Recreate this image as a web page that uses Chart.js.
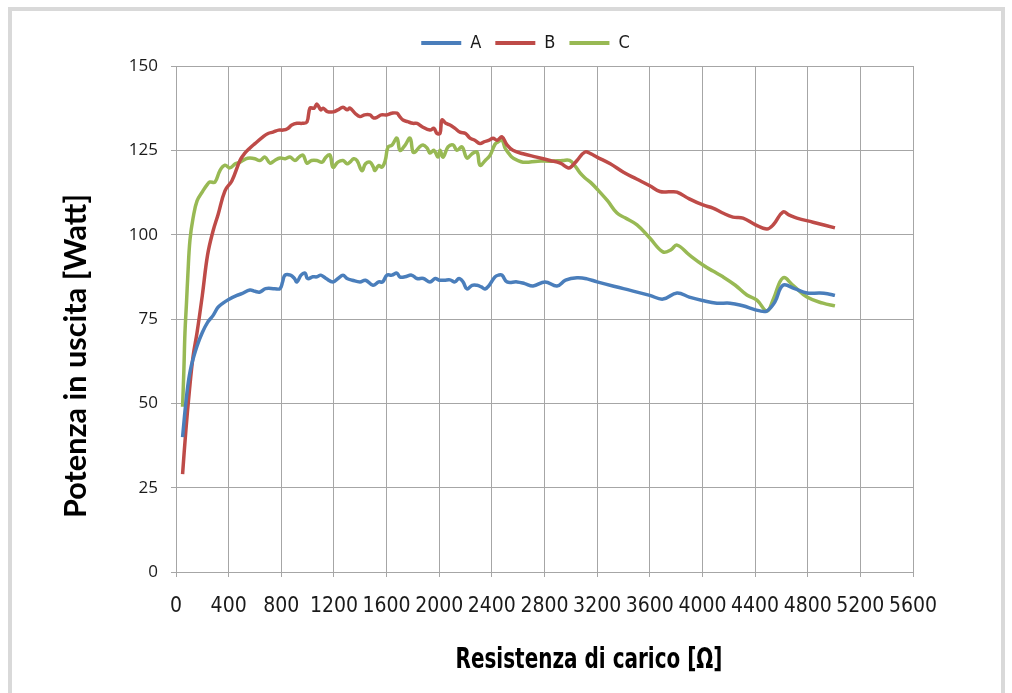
<!DOCTYPE html>
<html><head><meta charset="utf-8">
<script src="https://cdn.jsdelivr.net/npm/chart.js@4/dist/chart.umd.min.js"></script>
<style>
html,body{margin:0;padding:0;background:#fff;overflow:hidden;}
#wrap{position:relative;width:1012px;height:693px;}
#frame{position:absolute;left:8px;top:7px;width:997px;height:700px;border:4px solid #d9d9d9;box-sizing:border-box;pointer-events:none;}
canvas{position:absolute;left:0;top:0;}
</style></head><body>
<div id="wrap"><canvas id="c" width="1012" height="693"></canvas><div id="frame"></div></div>
<script>
// ---- data ----
const seriesNames = ['A', 'B', 'C'];
const xTitle = 'Resistenza di carico [Ω]';
const yTitle = 'Potenza in uscita [Watt]';

const aX = [50,80,110,160,200,240,281,320,357,400,463,500,562,600,638,680,750,790,810,828,870,900,919,950,980,1000,1040,1071,1100,1140,1193,1231,1269,1300,1340,1398,1440,1497,1540,1570,1603,1640,1679,1700,1740,1790,1831,1880,1930,1970,2000,2040,2082,2120,2150,2181,2211,2250,2287,2320,2348,2380,2424,2450,2477,2515,2591,2650,2713,2804,2895,2960,3047,3123,3200,3400,3600,3700,3807,3900,4000,4110,4209,4300,4437,4490,4550,4612,4700,4794,4893,4950,5007];
const aY = [40,52,60,67,71,74,76,78.5,79.7,80.8,82,82.5,83.6,83.2,83,84,84,84,86,88,88,87,86,88,88.6,87,87.5,87.5,88,87,86,87,88,87,86.5,86,86.5,85,86,86,88,88,88.6,87.5,87.5,88,87,87,86,87,86.5,86.5,86.6,86,87,86,83.9,85,85,84.5,83.9,85,87.5,88,88,86,86,85.5,84.8,86,84.8,86.5,87.2,86.9,86,84,82,80.9,82.7,81.5,80.5,79.7,79.7,79,77.4,77.4,80,85,84,82.7,82.7,82.5,82];

const bX = [50,75,100,130,160,200,240,281,320,372,425,486,520,562,600,661,700,737,780,813,850,880,919,960,995,1018,1050,1071,1100,1117,1150,1193,1230,1269,1300,1322,1360,1398,1430,1474,1500,1527,1560,1600,1640,1679,1700,1725,1760,1801,1831,1870,1930,1960,1983,2006,2021,2050,2082,2120,2158,2200,2234,2270,2310,2340,2380,2409,2440,2477,2515,2560,2637,2740,2842,2920,2979,3000,3047,3108,3150,3199,3300,3400,3500,3600,3677,3750,3807,3900,4004,4080,4150,4232,4308,4400,4490,4540,4612,4660,4718,4840,5007];
const bY = [29,42,53,64,71,82,94,101,106,113,116,122,124,125.7,127,129,130,130.4,131,131,131.5,132.5,133,133,133.4,137.5,137.5,138.7,137,137.5,136.5,136.4,137,137.8,137,137.5,136,135,135.5,135.5,134.6,134.8,135.5,135.5,136,136,135,134,133.5,133,133,132,131,131.5,130,130,134,133,132.5,131.5,130.4,130,128.6,128,127,127.5,128,128.6,128,129,126.6,125,124,123,122,121.2,119.8,120,122,124.5,124,123,121,118.5,116.5,114.5,112.8,112.7,112.6,110.6,108.8,107.9,106.5,105.2,104.9,103,101.7,103,106.7,105.8,104.9,103.7,102];

const cX = [50,60,68,80,90,106,130,160,205,240,258,296,334,372,410,450,486,530,562,600,638,676,714,750,790,830,866,904,935,965,995,1030,1071,1110,1140,1170,1193,1230,1269,1300,1322,1350,1375,1413,1440,1474,1500,1512,1540,1565,1590,1611,1640,1679,1702,1740,1778,1800,1816,1850,1877,1907,1930,1960,1991,2006,2029,2067,2105,2135,2173,2211,2250,2287,2310,2350,2386,2424,2447,2477,2500,2530,2561,2637,2750,2850,2940,2990,3030,3070,3108,3150,3207,3280,3351,3412,3503,3600,3700,3760,3807,3900,4004,4080,4156,4250,4338,4414,4490,4540,4612,4688,4794,4916,5007];
const cY = [49,60,70.8,80,88,98.4,105,110,113,115,115.6,115.6,119,120.6,119.8,121,121.5,122.5,122.7,122.5,122,123,121.2,122,122.7,122.5,123,122,123,123.6,121.2,122,122,121.5,123,123.6,120,121.5,122,121,121.5,122.5,122,119,121,121.5,120,119,120.5,120,122,126,126.5,128.6,125,126.5,128.6,124.5,124.5,126,126.6,125.7,124.2,125,123,125,123,126,126.6,125,126,122.7,124,124.5,120.6,122,123.5,126.8,127.5,128,125.7,124,122.7,121.5,121.8,121.8,122,122,120.5,118.3,116.8,115.5,113.2,110,106.4,105,102.9,99,94.9,95.5,96.9,94,91,89.2,87.5,85,82.1,80.6,77.4,81,87.2,85,81.5,79.7,78.9];

const xMin = 0, xMax = 5600, xStep = 400;
const yMin = 0, yMax = 150, yStep = 25;

// ---- chart ----
const colors = ['#4A7EBB', '#BE4B48', '#98B954'];
const COND = "'Liberation Sans Narrow','DejaVu Sans Condensed','Arial Narrow',sans-serif";
const GRID = '#a6a6a6';
function pts(xs, ys){ return xs.map((x,i)=>({x:x, y:ys[i]})); }
const seriesX = [aX,bX,cX], seriesY = [aY,bY,cY];

function drawFit(ctx, text, cx, cy, targetW, rot, family, base, stretch){
  ctx.save();
  ctx.font = 'bold ' + base + 'px ' + family;
  const w = ctx.measureText(text).width;
  const size = base * targetW / w;
  ctx.font = 'bold ' + size.toFixed(2) + 'px ' + family;
  ctx.translate(cx, cy); ctx.rotate(rot); ctx.scale(1, stretch);
  ctx.textAlign = 'center'; ctx.textBaseline = 'middle';
  ctx.fillStyle = '#000';
  ctx.fillText(text, 0, 0);
  ctx.restore();
}
const axisTitles = {
  id: 'axisTitles',
  afterLayout(chart){
    // centre the legend over the same point as in the reference
    const lg = chart.legend; lg.left += 19; lg.right += 19;
  },
  afterDraw(chart){
    const c = chart.ctx;
    drawFit(c, yTitle, 76, 356, 324, -Math.PI/2, "Lato,'Open Sans',sans-serif", 26, 1);
    drawFit(c, xTitle, 589, 661, 267, 0, COND, 26, 1.3);
  }
};

new Chart(document.getElementById('c'), {
  type: 'line',
  data: {
    datasets: seriesNames.map((n,i)=>({
      label: n, data: pts(seriesX[i], seriesY[i]),
      borderColor: colors[i], backgroundColor: colors[i],
      borderWidth: 3.5, pointRadius: 0, tension: 0.4, fill: false
    }))
  },
  options: {
    responsive: false, animation: false,
    layout: { padding: { left: 100, right: 99, top: 20, bottom: 0 } },
    plugins: {
      legend: { position: 'top', labels: {
        boxWidth: 40, boxHeight: 4, padding: 14, color: '#1a1a1a',
        font: { family: COND, size: 18 },
        generateLabels(chart){
          const items = Chart.defaults.plugins.legend.labels.generateLabels(chart);
          items.forEach(it=>{ it.lineWidth = 0; });
          return items;
        }
      } },
      subtitle: { display: true, text: '', weight: 500, padding: 0, font: { size: 4, lineHeight: 1 } },
      tooltip: { enabled: false }
    },
    scales: {
      x: { type: 'linear', min: xMin, max: xMax,
        ticks: { stepSize: xStep, autoSkip: false, maxRotation: 0, padding: 17, color: '#1a1a1a',
          font: { family: COND, size: 21 }, callback: v => String(v) },
        grid: { color: GRID, tickLength: 5 }, border: { color: GRID },
        afterFit(s){ s.height = 121; } },
      y: { min: yMin, max: yMax,
        ticks: { stepSize: yStep, padding: 13, color: '#1a1a1a', font: { family: "'Open Sans',sans-serif", size: 17 } },
        grid: { color: GRID, tickLength: 5 }, border: { color: GRID },
        afterFit(s){ s.width = 76; } }
    }
  },
  plugins: [axisTitles]
});
</script>
</body></html>
